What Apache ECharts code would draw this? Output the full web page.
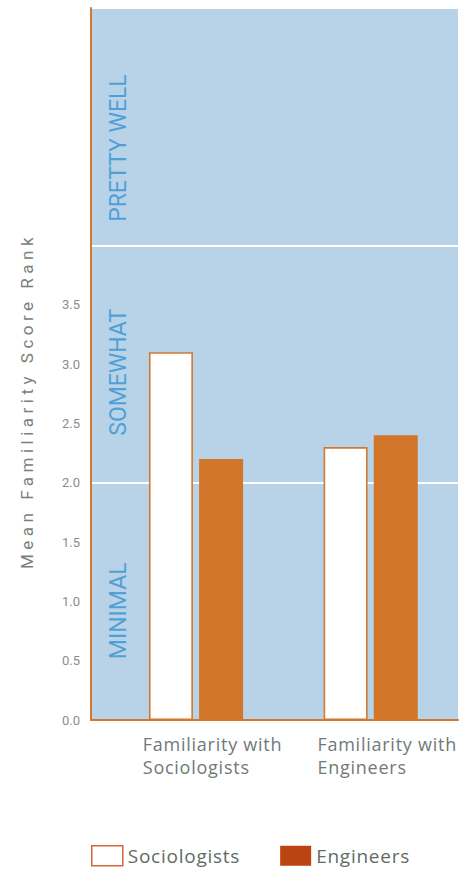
<!DOCTYPE html>
<html>
<head>
<meta charset="utf-8">
<script src="https://cdn.jsdelivr.net/npm/echarts@6/dist/echarts.min.js"></script>
<style>
html,body{margin:0;padding:0;background:#fff;}
#c{width:470px;height:870px;}
text[style*="Arial"]{letter-spacing:4.5px;}
text[style*="Open Sans"]{letter-spacing:0.75px;}
</style>
</head>
<body>
<div id="c"></div>
<script>
const categories = ['Familiarity with\nSociologists', 'Familiarity with\nEngineers'];
const sociologists = [3.1, 2.3];
const engineers = [2.2, 2.4];
const bandLabels = ['MINIMAL', 'SOMEWHAT', 'PRETTY WELL'];
const bandLabelLevels = [0.92, 2.93, 4.82];
const yTickMax = 3.5;

const chart = echarts.init(document.getElementById('c'), null, {renderer: 'svg'});
const FONT = 'Roboto';
const LFONT = "'Open Sans'";
const orange = '#d2782f';

const option = {
  animation: false,
  grid: [
    {left: 91, right: 12, top: 8, bottom: 150, show: true, backgroundColor: '#b8d3e8', borderWidth: 0},
    {left: 108.7, right: 12, top: 8, bottom: 150}
  ],
  xAxis: [
    {gridIndex: 0, type: 'value', min: 0, max: 1, axisLine: {show: true, onZero: false, lineStyle: {color: orange, width: 2}},
     axisTick: {show: false}, axisLabel: {show: false}, splitLine: {show: false}},
    {gridIndex: 1, type: 'category', data: categories, axisLine: {show: false}, axisTick: {show: false},
     axisLabel: {
       align: 'center', margin: 12, padding: [0, 0, 0, 21],
       formatter: function (v) { return v.split('\n').map(s => '{a|' + s + '}').join('\n'); },
       rich: {a: {align: 'left', fontFamily: LFONT, fontSize: 18, lineHeight: 23, color: '#6f7a78'}}
     }}
  ],
  yAxis: [
    {gridIndex: 0, type: 'value', min: 0, max: 6, interval: 0.5,
     axisLine: {show: true, lineStyle: {color: orange, width: 2}}, axisTick: {show: false},
     axisLabel: {margin: 11, color: '#8c8c8c', fontFamily: FONT, fontSize: 13,
       formatter: function (v) { return v <= yTickMax ? v.toFixed(1) : ''; }},
     splitLine: {show: false}},
    {gridIndex: 0, type: 'value', min: 0, max: 6, interval: 2, position: 'right',
     axisLine: {show: false}, axisTick: {show: false}, axisLabel: {show: false},
     splitLine: {show: true, lineStyle: {color: '#ffffff', width: 2}}},
    {gridIndex: 1, type: 'value', min: 0, max: 6, show: false, splitLine: {show: false}}
  ],
  legend: {
    left: 86, top: 840, itemWidth: 31, itemHeight: 20, itemGap: 49,
    textStyle: {fontFamily: LFONT, fontSize: 19, color: '#5f6c64'},
    data: [
      {name: 'Sociologists', icon: 'rect', itemStyle: {color: '#ffffff', borderColor: '#d0683a', borderWidth: 1.5}},
      {name: 'Engineers', icon: 'rect', itemStyle: {color: '#bb4411', borderWidth: 0}}
    ]
  },
  graphic: [{
    type: 'text', x: 27, y: 401, rotation: Math.PI / 2,
    style: {text: 'Mean Familiarity Score Rank', font: '17px Roboto, Arial', fill: '#76827c', align: 'center', verticalAlign: 'middle'}
  }],
  series: [
    {name: 'Sociologists', type: 'bar', xAxisIndex: 1, yAxisIndex: 2, data: sociologists,
     barWidth: 44, barGap: '14%',
     itemStyle: {color: '#ffffff', borderColor: orange, borderWidth: 1.6}},
    {name: 'Engineers', type: 'bar', xAxisIndex: 1, yAxisIndex: 2, data: engineers,
     barWidth: 44,
     itemStyle: {color: '#d1762b', borderColor: '#d1762b', borderWidth: 1.6}},
    {name: 'bands', type: 'scatter', xAxisIndex: 0, yAxisIndex: 0, silent: true,
     symbolSize: 1, itemStyle: {color: 'rgba(0,0,0,0)'},
     data: bandLabels.map((t, i) => ({value: [0.076, bandLabelLevels[i]], name: t})),
     label: {show: true, position: 'inside', rotate: 90, formatter: '{b}',
       fontFamily: FONT, fontSize: 23, color: '#3492d2'}}
  ]
};
chart.setOption(option);
</script>
</body>
</html>
